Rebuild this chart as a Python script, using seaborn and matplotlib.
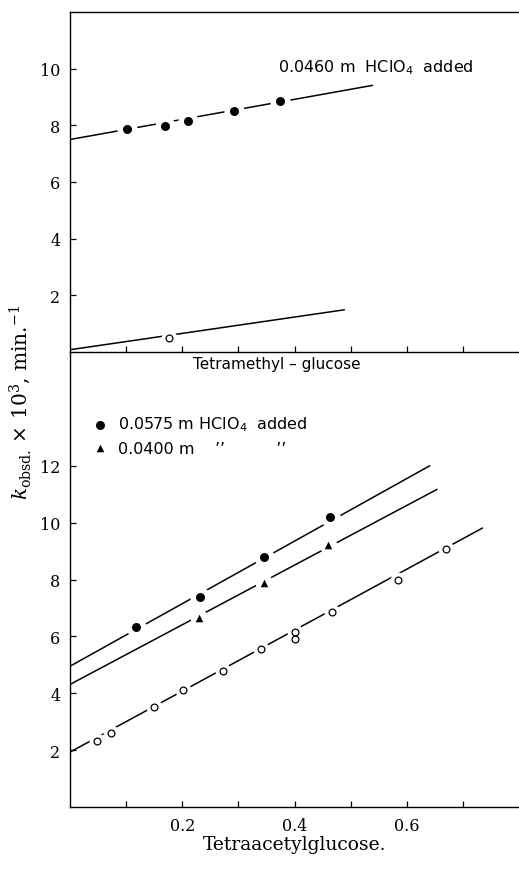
import matplotlib
matplotlib.use("Agg")
import matplotlib.pyplot as plt
import seaborn as sns
from matplotlib.ticker import FixedLocator

# upper panel: tetramethylglucose
tm_acid_x = [0.101, 0.169, 0.210, 0.292, 0.375]
tm_acid_y = [7.88, 7.99, 8.14, 8.52, 8.87]
tm_acid_fit_x = [0.0, 0.539]
tm_acid_fit_y = [7.50, 9.41]
tm_plain_x = [0.176]
tm_plain_y = [0.49]
tm_plain_fit_x = [0.0, 0.489]
tm_plain_fit_y = [0.08, 1.49]

# lower panel: tetraacetylglucose
ta_575_x = [0.117, 0.231, 0.346, 0.464]
ta_575_y = [6.33, 7.38, 8.79, 10.20]
ta_575_fit_x = [0.0, 0.641]
ta_575_fit_y = [4.95, 12.00]
ta_400_x = [0.229, 0.346, 0.460]
ta_400_y = [6.65, 7.89, 9.20]
ta_400_fit_x = [0.0, 0.654]
ta_400_fit_y = [4.31, 11.17]
ta_plain_x = [0.0475, 0.073, 0.150, 0.202, 0.272, 0.341, 0.400, 0.400, 0.467, 0.584, 0.670]
ta_plain_y = [2.31, 2.60, 3.51, 4.12, 4.80, 5.54, 6.17, 5.92, 6.86, 7.97, 9.06]
ta_plain_fit_x = [0.0, 0.735]
ta_plain_fit_y = [1.93, 9.81]

top_yticks = [2, 4, 6, 8, 10]
bot_yticks = [2, 4, 6, 8, 10, 12]
bot_xticks = [0.2, 0.4, 0.6]
minor_xticks = [0.1, 0.3, 0.5, 0.7]
all_xticks = [0.1, 0.2, 0.3, 0.4, 0.5, 0.6, 0.7]

sns.set_style("ticks")
plt.rcParams["font.family"] = ["DejaVu Serif"]
plt.rcParams["mathtext.fontset"] = "dejavuserif"
for key in ("text.color", "axes.edgecolor", "axes.labelcolor", "xtick.color", "ytick.color"):
    plt.rcParams[key] = "black"

SANS = ["DejaVu Sans"]
LW = 1.1

fig = plt.figure(figsize=(5.19, 8.70), dpi=100)
ax_top = fig.add_axes([70 / 519, 517 / 870, 449 / 519, 340 / 870])
ax_bot = fig.add_axes([70 / 519, 62 / 870, 449 / 519, 455 / 870])
ax_bot.set_facecolor("none")


def fit_line(ax, x, y):
    sns.lineplot(x=x, y=y, ax=ax, color="black", linewidth=LW, zorder=2)


def points(ax, x, y, kind, label=None):
    if kind == "filled":
        sns.scatterplot(x=x, y=y, ax=ax, s=210, color="white", linewidth=0, zorder=3)
        sns.scatterplot(x=x, y=y, ax=ax, s=42, color="black", linewidth=0, zorder=4, label=label)
    elif kind == "tri":
        sns.scatterplot(x=x, y=y, ax=ax, s=160, color="white", linewidth=0, zorder=3)
        sns.scatterplot(x=x, y=y, ax=ax, s=30, marker="^", color="black", linewidth=0,
                        zorder=4, label=label)
    else:
        sns.scatterplot(x=x, y=y, ax=ax, s=130, color="white", linewidth=0, zorder=3)
        sns.scatterplot(x=x, y=y, ax=ax, s=24, facecolor="white", edgecolor="black",
                        linewidth=0.9, zorder=4)


# upper panel
fit_line(ax_top, tm_acid_fit_x, tm_acid_fit_y)
fit_line(ax_top, tm_plain_fit_x, tm_plain_fit_y)
points(ax_top, tm_acid_x, tm_acid_y, "filled")
points(ax_top, tm_plain_x, tm_plain_y, "open")

ax_top.set_xlim(0, 0.8)
ax_top.set_ylim(0, 12)
ax_top.xaxis.set_major_locator(FixedLocator(all_xticks))
ax_top.set_xticklabels([])
ax_top.set_yticks(top_yticks)
ax_top.text(0.37, 10.07, "0.0460 m  HClO$_4$  added", family=SANS, math_fontfamily="dejavusans",
            fontsize=11.5, ha="left", va="center")

# lower panel
fit_line(ax_bot, ta_575_fit_x, ta_575_fit_y)
fit_line(ax_bot, ta_400_fit_x, ta_400_fit_y)
fit_line(ax_bot, ta_plain_fit_x, ta_plain_fit_y)
points(ax_bot, ta_575_x, ta_575_y, "filled", label="0.0575 m HClO$_4$  added")
points(ax_bot, ta_400_x, ta_400_y, "tri", label="0.0400 m    \u2019\u2019          \u2019\u2019")
points(ax_bot, ta_plain_x, ta_plain_y, "open")

ax_bot.set_xlim(0, 0.8)
ax_bot.set_ylim(0, 16)
ax_bot.set_xticks(bot_xticks)
ax_bot.set_xticklabels(["0.2", "0.4", "0.6"])
ax_bot.xaxis.set_minor_locator(FixedLocator(minor_xticks))
ax_bot.set_yticks(bot_yticks)
ax_bot.set_xlabel("Tetraacetylglucose.", fontsize=13.5, labelpad=1)
ax_bot.text(0.46, 0.974, "Tetramethyl \u2013 glucose", transform=ax_bot.transAxes, family=SANS,
            fontsize=11, ha="center", va="center")

leg = ax_bot.legend(loc="upper left", bbox_to_anchor=(0.05, 0.862), frameon=False,
                    handlelength=1.0, handletextpad=0.6, labelspacing=0.45,
                    borderpad=0, borderaxespad=0,
                    prop={"family": SANS, "size": 11.5})
for t in leg.get_texts():
    t.set_math_fontfamily("dejavusans")

for ax in (ax_top, ax_bot):
    ax.set_ylabel("")
    ax.spines["right"].set_visible(False)
    for sp in ax.spines.values():
        sp.set_linewidth(1.0)
    ax.tick_params(which="both", direction="in", length=4, width=0.9, labelsize=11.5, pad=7)
ax_top.set_xlabel("")
ax_bot.spines["top"].set_visible(False)

fig.text(20 / 519, 0.538, r"$k_{\mathrm{obsd.}}\times\,10^{3}$, min.$^{-1}$",
         rotation=90, ha="center", va="center", fontsize=14.5)

fig.savefig("out.png", dpi=100)
